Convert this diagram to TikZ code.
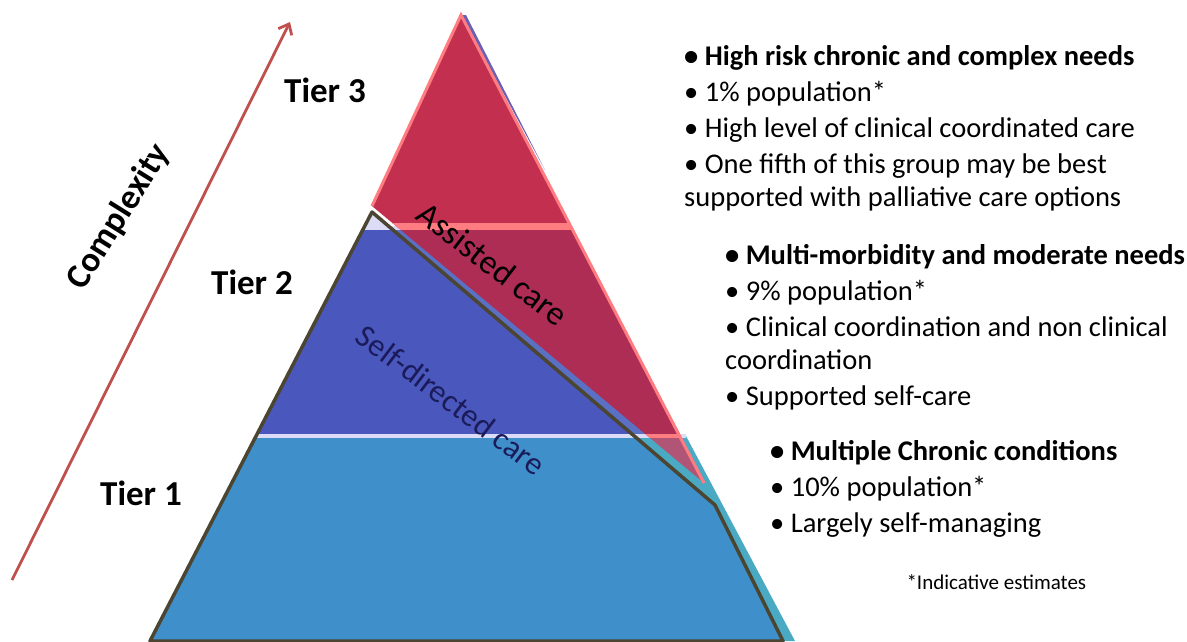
\documentclass[tikz,border=0pt]{standalone}
\usepackage{fontspec}
\setmainfont{Carlito}
\usetikzlibrary{arrows.meta}
\definecolor{tone}{HTML}{3F8FCA}
\definecolor{tteal}{HTML}{4AAAC4}
\definecolor{ttwo}{HTML}{4A57BD}
\definecolor{ttwob}{HTML}{5A70C4}
\definecolor{tthree}{HTML}{6A5FB5}
\definecolor{lav}{HTML}{DCDCF6}
\definecolor{rwhite}{HTML}{C3304F}
\definecolor{rblue}{HTML}{AD2D55}
\definecolor{rteal}{HTML}{B05575}
\definecolor{pinkln}{HTML}{FF7C80}
\definecolor{outl}{HTML}{4B4531}
\definecolor{cplx}{HTML}{C0504D}
\definecolor{selfc}{HTML}{1B1B5A}

\begin{document}
\begin{tikzpicture}[x=1pt,y=-1pt,
    tier/.style={font=\fontsize{35}{38}\selectfont\bfseries,inner sep=0pt},
    bull/.style={font=\fontsize{28.5}{33}\selectfont,align=left,anchor=north west,inner sep=0pt},
    arr/.style={-{Straight Barb[length=9pt,width=15pt]},line width=2.8pt,cplx},
]
\useasboundingbox (0,0) rectangle (1187,641);

% Pyramid corners
\coordinate (bl) at (150,641);
\coordinate (br) at (795,641);
\coordinate (t1l) at (256,436);
\coordinate (t1r) at (686,436);
\coordinate (t2b) at (681,436);
\coordinate (t2l) at (364,228);
\coordinate (t2r) at (572,228);
% Self-directed care outline
\coordinate (sv) at (372,212);
\coordinate (sk) at (715,505);
\coordinate (sb) at (783,641);
% Assisted care triangle
\coordinate (ra) at (461,15);
\coordinate (rl) at (372,206);
\coordinate (rt) at (704,483);

% Tiers
\fill[tteal] (bl) -- (br) -- (t1r) -- (t1l) -- cycle;
\fill[ttwob] (t1l) -- (t2b) -- (t2r) -- (t2l) -- cycle;
\fill[tthree] (ra) -- ++(5,0) -- (545,170) -- cycle;

% Self-directed care
\begin{scope}
\clip (bl) -- (sv) -- (sk) -- (sb) -- cycle;
\fill[tone] (0,436) rectangle (1187,641);
\fill[ttwo] (0,228) rectangle (1187,436);
\fill[lav] (0,0) rectangle (1187,228);
\end{scope}
\draw[lav,line width=3.5pt] (t1l) -- (t1r);
\draw[lav,line width=3.5pt] (t2l) -- (t2r);

% Assisted care
\begin{scope}
\clip (ra) -- (rl) -- (rt) -- cycle;
\fill[rwhite] (0,0) rectangle (1187,228);
\fill[rblue] (0,228) rectangle (1187,436);
\fill[rteal] (0,436) rectangle (1187,641);
\draw[pinkln,line width=7pt] (0,226) -- (1187,226);
\draw[pinkln,line width=3.5pt] (0,436) -- (1187,436);
\end{scope}
\draw[pinkln,line width=3pt] (rl) -- (ra) -- (rt);

\draw[outl,line width=3.5pt,line join=round] (bl) -- (sv) -- (sk) -- (sb) -- cycle;

% Complexity arrow
\coordinate (cs) at (12,580);
\coordinate (ce) at (290,22);
\draw[arr] (cs) -- (ce);
\node[font=\fontsize{35}{38}\selectfont\bfseries,rotate=58] (cx) at (119,217) {Complexity};

% Tier labels
\node[tier] (tr3) at (325,90) {Tier 3};
\node[tier] (tr2) at (252,282) {Tier 2};
\node[tier] (tr1) at (141,493) {Tier 1};

\node[font=\fontsize{34}{36}\selectfont,rotate=-37.5] (ac) at (493,264) {Assisted care};
\node[font=\fontsize{32}{34}\selectfont,rotate=-37,selfc] (sc) at (451,400) {Self-directed care};

% Descriptions
\node[bull] (d3) at (684,45) {\textbf{\textbullet\ High risk chronic and complex needs}\\[3pt]
  \textbullet\ 1\% population*\\[3pt]
  \textbullet\ High level of clinical coordinated care\\[3pt]
  \textbullet\ One fifth of this group may be best\\
  supported with palliative care options};
\node[bull] (d2) at (725,244) {\textbf{\textbullet\ Multi-morbidity and moderate needs}\\[3pt]
  \textbullet\ 9\% population*\\[3pt]
  \textbullet\ Clinical coordination and non clinical\\
  coordination\\[3pt]
  \textbullet\ Supported self-care};
\node[bull] (d1) at (770,440) {\textbf{\textbullet\ Multiple Chronic conditions}\\[3pt]
  \textbullet\ 10\% population*\\[3pt]
  \textbullet\ Largely self-managing};
\node[font=\fontsize{21}{24}\selectfont,anchor=west] (est) at (903,582) {*Indicative estimates};
\end{tikzpicture}
\end{document}
